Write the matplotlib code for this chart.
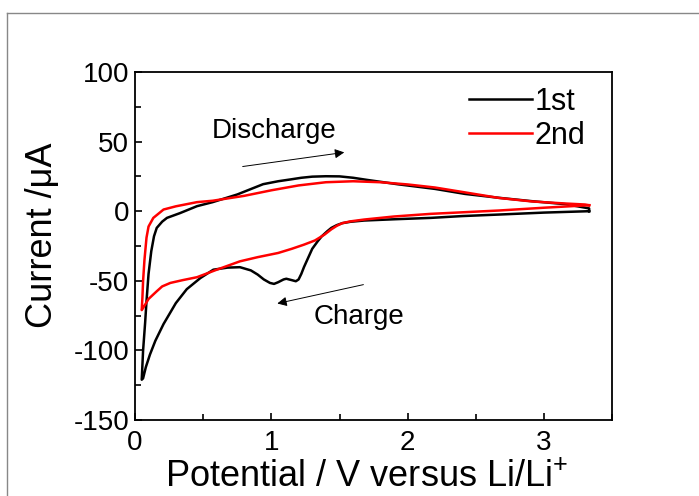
import matplotlib
matplotlib.use('Agg')
import matplotlib.pyplot as plt
from matplotlib.lines import Line2D
from matplotlib.ticker import MultipleLocator

plt.rcParams['font.family'] = ['Liberation Sans', 'DejaVu Sans']
plt.rcParams['mathtext.fontset'] = 'custom'
plt.rcParams['mathtext.rm'] = 'Liberation Sans'
plt.rcParams['axes.unicode_minus'] = False

# cycle 1: cathodic sweep 3.33 -> 0.05 V, then anodic back to 3.33 V
v1 = [3.33, 3.0, 2.67, 2.4, 2.17, 1.9, 1.68, 1.58, 1.52, 1.48, 1.44, 1.41, 1.37,
      1.34, 1.3, 1.27, 1.24, 1.22, 1.2, 1.18, 1.15, 1.11, 1.09, 1.05, 1.02, 0.99,
      0.945, 0.9, 0.85, 0.77, 0.68, 0.575, 0.48, 0.38, 0.3, 0.21, 0.15, 0.11, 0.08,
      0.06, 0.05,
      0.06, 0.075, 0.085, 0.1, 0.12, 0.14, 0.16, 0.2, 0.235, 0.33, 0.455, 0.57,
      0.75, 0.94, 1.05, 1.14, 1.22, 1.3, 1.4, 1.5, 1.6, 1.7, 1.93, 2.2, 2.42,
      2.67, 2.91, 3.16, 3.33, 3.33]
i1 = [0, -1, -2.4, -3.5, -4.8, -5.8, -6.7, -7.6, -8.6, -10, -12, -14.4, -18,
      -21.6, -27, -33.5, -40, -45, -49, -50.3, -49.5, -48.5, -49, -51, -52.2, -51.5,
      -49, -45.5, -42.5, -40.2, -40.5, -42, -48, -56, -66, -81, -93, -103, -112,
      -120, -121,
      -100, -80, -64.7, -45, -28.7, -18, -12, -7.5, -4.8, -1.4, 3.6, 6.5,
      12, 19.4, 21.5, 22.8, 24, 24.8, 25.1, 25, 24, 22.5, 19.3, 16, 12.4,
      9.6, 7.2, 5, 2, 0]

# cycle 2
v2 = [3.33, 3.0, 2.67, 2.4, 2.17, 1.9, 1.68, 1.58, 1.52, 1.48, 1.44, 1.39, 1.32,
      1.24, 1.15, 1.05, 0.9, 0.77, 0.6, 0.455, 0.35, 0.26, 0.2, 0.16, 0.1, 0.06,
      0.05,
      0.055, 0.06, 0.07, 0.085, 0.1, 0.135, 0.21, 0.3, 0.455, 0.57, 0.8, 1.0, 1.2,
      1.4, 1.6, 1.8, 2.0, 2.2, 2.42, 2.67, 2.91, 3.16, 3.3, 3.33]
i2 = [4.3, 2.5, 0.5, -0.8, -1.9, -3.8, -6, -7.3, -8.6, -10.5, -13, -16.8, -21,
      -24, -27, -30, -33, -36, -42, -47.4, -49.5, -51.5, -54, -57.5, -63, -69.5,
      -71,
      -62, -50, -35, -19, -11, -4.8, 1.2, 3.5, 6.5, 7.5, 11, 15, 18.5,
      20.8, 21.5, 20.8, 19.2, 17, 13.5, 9.5, 7, 5.5, 4.8, 4.3]

labels = ['1st', '2nd']
colors = ['black', 'red']

fig = plt.figure(figsize=(6.99, 4.96), dpi=100)
ax = fig.add_axes([0.193, 0.153, 0.683, 0.702])

ax.plot(v1, i1, color=colors[0], lw=1.8, label=labels[0])
ax.plot(v2, i2, color=colors[1], lw=1.8, label=labels[1])

ax.set_xlim(0, 3.5)
ax.set_ylim(-150, 100)
ax.xaxis.set_major_locator(MultipleLocator(1))
ax.xaxis.set_minor_locator(MultipleLocator(0.5))
ax.yaxis.set_major_locator(MultipleLocator(50))
ax.yaxis.set_minor_locator(MultipleLocator(25))
ax.tick_params(which='both', direction='in', top=False, right=False,
               labelsize=20, width=1.2)
ax.tick_params(axis='x', which='major', pad=7)
ax.tick_params(axis='y', which='major', pad=4)
ax.tick_params(which='major', length=5)
ax.tick_params(which='minor', length=4)
for s in ax.spines.values():
    s.set_linewidth(1.3)

ax.set_xlabel('Potential / V versus Li/Li$^{+}$', fontsize=26, labelpad=3)
ax.xaxis.label.set_x(0.485)
ax.set_ylabel('Current /\u03bcA', fontsize=26, labelpad=10)
ax.yaxis.label.set_y(0.53)

ax.legend(loc='upper left', bbox_to_anchor=(0.70, 0.958), frameon=False,
          fontsize=22, handlelength=2.05, handletextpad=0.1, labelspacing=0.15,
          borderpad=0, borderaxespad=0)

ax.annotate('', xy=(1.555, 42.5), xytext=(0.77, 31.8),
            arrowprops=dict(arrowstyle='-|>', color='black', lw=0.7,
                            mutation_scale=14))
ax.text(0.567, 57.6, 'Discharge', fontsize=20, va='center', ha='left')
ax.annotate('', xy=(1.024, -66.7), xytext=(1.695, -52.3),
            arrowprops=dict(arrowstyle='-|>', color='black', lw=0.7,
                            mutation_scale=14))
ax.text(1.31, -76, 'Charge', fontsize=20, va='center', ha='left')

# thin grey frame seen on the top and left of the picture
fig.add_artist(Line2D([0.010, 1.0], [0.973, 0.973], color='#888888', lw=1))
fig.add_artist(Line2D([0.010, 0.010], [0.0, 0.973], color='#888888', lw=1))

fig.savefig('out.png', dpi=100)
